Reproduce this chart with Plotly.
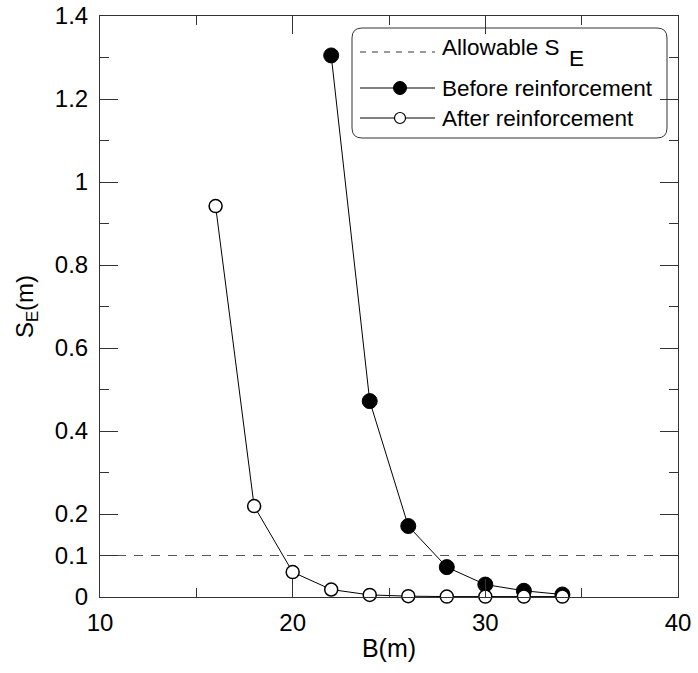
import plotly.graph_objects as go

B_before = [22, 24, 26, 28, 30, 32, 34]
S_before = [1.305, 0.472, 0.171, 0.072, 0.030, 0.015, 0.006]
B_after = [16, 18, 20, 22, 24, 26, 28, 30, 32, 34]
S_after = [0.942, 0.219, 0.060, 0.018, 0.005, 0.002, 0.001, 0.001, 0.001, 0.001]
allow_x = [10, 40]
allow_y = [0.1, 0.1]
y_tickvals = [0, 0.1, 0.2, 0.4, 0.6, 0.8, 1.0, 1.2, 1.4]
y_ticktext = ["0", "0.1", "0.2", "0.4", "0.6", "0.8", "1", "1.2", "1.4"]
x_tickvals = [10, 20, 30, 40]
legend_labels = ["Allowable S", "Before reinforcement", "After reinforcement"]

FONT = "Liberation Sans, Arial, sans-serif"
fig = go.Figure()

fig.add_trace(go.Scatter(x=allow_x, y=allow_y, mode="lines",
                         line=dict(color="#555555", width=1.2, dash="9px,8px"),
                         showlegend=False, cliponaxis=False))
fig.add_trace(go.Scatter(x=B_before, y=S_before, mode="lines+markers",
                         line=dict(color="black", width=1),
                         marker=dict(symbol="circle", size=15, color="black",
                                     line=dict(color="black", width=1)),
                         showlegend=False, cliponaxis=False))
fig.add_trace(go.Scatter(x=B_after, y=S_after, mode="lines+markers",
                         line=dict(color="black", width=1),
                         marker=dict(symbol="circle", size=13, color="white",
                                     line=dict(color="black", width=1.5)),
                         showlegend=False, cliponaxis=False))

# manual legend on a pixel-coordinate overlay axis
LX0, LX1, LY0, LY1 = 352, 667, 28, 138
r = 10
path = (f"M {LX0+r},{LY0} L {LX1-r},{LY0} Q {LX1},{LY0} {LX1},{LY0+r} "
        f"L {LX1},{LY1-r} Q {LX1},{LY1} {LX1-r},{LY1} L {LX0+r},{LY1} "
        f"Q {LX0},{LY1} {LX0},{LY1-r} L {LX0},{LY0+r} Q {LX0},{LY0} {LX0+r},{LY0} Z")
fig.add_shape(type="path", path=path, xref="x2", yref="y2",
              line=dict(color="#333333", width=1), fillcolor="white", layer="below")
rows = [52, 88, 118]
fig.add_trace(go.Scatter(x=[360, 435], y=[rows[0], rows[0]], xaxis="x2", yaxis="y2",
                         mode="lines", line=dict(color="#333333", width=1, dash="6px,6px"),
                         showlegend=False, hoverinfo="skip"))
for yy in rows[1:]:
    fig.add_trace(go.Scatter(x=[360, 435], y=[yy, yy], xaxis="x2", yaxis="y2",
                             mode="lines", line=dict(color="black", width=1),
                             showlegend=False, hoverinfo="skip"))
fig.add_trace(go.Scatter(x=[400], y=[rows[1]], xaxis="x2", yaxis="y2", mode="markers",
                         marker=dict(symbol="circle", size=13, color="black",
                                     line=dict(color="black", width=1)),
                         showlegend=False, hoverinfo="skip"))
fig.add_trace(go.Scatter(x=[400], y=[rows[2]], xaxis="x2", yaxis="y2", mode="markers",
                         marker=dict(symbol="circle", size=11, color="white",
                                     line=dict(color="black", width=1.2)),
                         showlegend=False, hoverinfo="skip"))
for lbl, yy in zip(legend_labels, [47, rows[1], rows[2]]):
    fig.add_annotation(x=442, y=yy, xref="x2", yref="y2", text=lbl, showarrow=False,
                       xanchor="left", yanchor="middle", xshift=-2,
                       font=dict(family=FONT, size=22.5, color="black"))
fig.add_annotation(x=569, y=58, xref="x2", yref="y2", text="E", showarrow=False,
                   xanchor="left", yanchor="middle", xshift=-2,
                   font=dict(family=FONT, size=22.5, color="black"))

axis_common = dict(showline=True, linecolor="#333333", linewidth=1, mirror="ticks",
                   ticks="inside", ticklen=18, tickwidth=1, tickcolor="#333333",
                   showgrid=False, zeroline=False, automargin=False,
                   tickfont=dict(family=FONT, size=24, color="black"))
fig.update_layout(
    width=698, height=673,
    margin=dict(l=100, r=20, t=16, b=76),
    plot_bgcolor="white", paper_bgcolor="white",
    xaxis=dict(range=[10, 40], tickmode="array", tickvals=x_tickvals,
               ticklabelstandoff=4,
               minor=dict(dtick=5, tick0=10, ticks="inside", ticklen=9, tickcolor="#333333"),
               title=dict(text="B(m)", font=dict(family=FONT, size=25, color="black"), standoff=4),
               **axis_common),
    yaxis=dict(range=[0, 1.4], tickmode="array", tickvals=y_tickvals, ticktext=y_ticktext,
               ticklabelstandoff=6,
               minor=dict(tickvals=[0.3, 0.5, 0.7, 0.9, 1.1, 1.3], ticks="inside", ticklen=9,
                          tickcolor="#333333"),
               title=dict(text="S<sub>E</sub>(m)", font=dict(family=FONT, size=24, color="black"),
                          standoff=14),
               **axis_common),
    xaxis2=dict(overlaying="x", range=[100, 678], visible=False, automargin=False),
    yaxis2=dict(overlaying="y", range=[597, 16], visible=False, automargin=False),
)
fig.write_html("out.html")
